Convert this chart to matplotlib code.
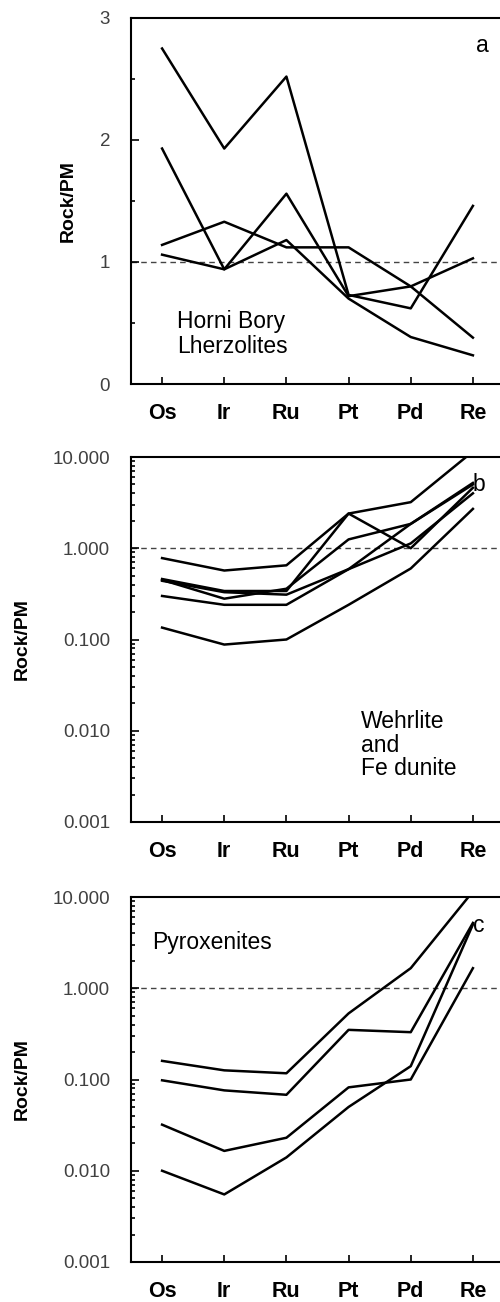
import numpy as np
import matplotlib.pyplot as plt
from matplotlib.ticker import LogLocator, NullFormatter, FixedLocator

plt.rcParams['font.family'] = ['Liberation Sans', 'DejaVu Sans']

elements = ['Os', 'Ir', 'Ru', 'Pt', 'Pd', 'Re']

# Panel a - Horni Bory lherzolites (linear scale)
lherz_1 = [2.75, 1.93, 2.52, 0.73, 0.62, 1.46]
lherz_2 = [1.93, 0.94, 1.56, 0.72, 0.80, 1.03]
lherz_3 = [1.14, 1.33, 1.12, 1.12, 0.80, 0.38]
lherz_4 = [1.06, 0.94, 1.18, 0.70, 0.385, 0.235]

# Panel b - wehrlite and Fe dunite (log scale)
wehr_1 = [0.78, 0.57, 0.65, 2.4, 3.2, 11.5]
wehr_2 = [0.46, 0.34, 0.34, 2.4, 1.0, 4.6]
wehr_3 = [0.45, 0.28, 0.36, 1.25, 1.85, 5.2]
wehr_4 = [0.44, 0.33, 0.31, 0.59, 1.85, 5.0]
wehr_5 = [0.30, 0.24, 0.24, 0.59, 1.13, 4.0]
wehr_6 = [0.135, 0.088, 0.10, 0.24, 0.60, 2.7]

# Panel c - pyroxenites (log scale)
pyx_1 = [0.16, 0.126, 0.117, 0.53, 1.66, 11.5]
pyx_2 = [0.098, 0.076, 0.068, 0.35, 0.33, 5.2]
pyx_3 = [0.032, 0.0165, 0.023, 0.082, 0.10, 1.66]
pyx_4 = [0.010, 0.0055, 0.014, 0.05, 0.14, 5.0]

log_ticks = [0.001, 0.01, 0.1, 1, 10]
log_labels = ['0.001', '0.010', '0.100', '1.000', '10.000']

W, H = 500, 1302
fig = plt.figure(figsize=(W / 100, H / 100), dpi=100)

def axes_px(top, bottom, left=131, right=504):
    return fig.add_axes([left / W, 1 - bottom / H, (right - left) / W, (bottom - top) / H])

def fig_xy(px, py):
    return px / W, 1 - py / H

ax_a = axes_px(18, 384)
ax_b = axes_px(457, 822)
ax_c = axes_px(897, 1262)

x = np.arange(len(elements))

def style(ax, label_x):
    for s in ax.spines.values():
        s.set_linewidth(1.5)
    ax.set_xlim(-0.5, 5.5)
    ax.set_xticks(x)
    ax.set_xticklabels(elements, fontsize=15.5, fontweight='bold')
    ax.tick_params(axis='x', direction='in', length=5, width=1.2, pad=14)
    ax.tick_params(axis='y', which='both', direction='in', labelsize=13.5,
                   labelcolor='#404040', width=1.2, pad=15)
    ax.tick_params(axis='y', which='major', length=6)
    ax.tick_params(axis='y', which='minor', length=3)
    ax.set_ylabel('Rock/PM', fontsize=14, fontweight='bold')
    ax.yaxis.set_label_coords((label_x - 131) / 373, 0.5)
    ax.axhline(1, color='#444444', lw=1.0, ls=(0, (4, 3)), zorder=1)

# panel a
for s in [lherz_1, lherz_2, lherz_3, lherz_4]:
    ax_a.plot(x, s, color='black', lw=1.8)
style(ax_a, 77)
ax_a.set_ylim(0, 3)
ax_a.set_yticks([0, 1, 2, 3])
ax_a.yaxis.set_minor_locator(FixedLocator([0.5, 1.5, 2.5]))
fig.text(*fig_xy(177, 334), 'Horni Bory\nLherzolites', fontsize=16.5,
         va='center', ha='left', linespacing=1.1)
fig.text(*fig_xy(482, 46), 'a', fontsize=16.5, ha='center', va='center')

# panel b
for s in [wehr_1, wehr_2, wehr_3, wehr_4, wehr_5, wehr_6]:
    ax_b.plot(x, s, color='black', lw=1.8)

# panel c
for s in [pyx_1, pyx_2, pyx_3, pyx_4]:
    ax_c.plot(x, s, color='black', lw=1.8)

for ax in [ax_b, ax_c]:
    ax.set_yscale('log')
    style(ax, 31)
    ax.set_ylim(0.001, 10)
    ax.set_yticks(log_ticks)
    ax.set_yticklabels(log_labels)
    ax.yaxis.set_minor_locator(LogLocator(base=10, subs=np.arange(2, 10)))
    ax.yaxis.set_minor_formatter(NullFormatter())

fig.text(*fig_xy(361, 745), 'Wehrlite\nand\nFe dunite', fontsize=16.5,
         va='center', ha='left', linespacing=1.05)
fig.text(*fig_xy(479, 485), 'b', fontsize=16.5, ha='center', va='center')

fig.text(*fig_xy(152, 942), 'Pyroxenites', fontsize=16.5, va='center', ha='left')
fig.text(*fig_xy(479, 925), 'c', fontsize=16.5, ha='center', va='center')

fig.savefig('out.png', dpi=100)
